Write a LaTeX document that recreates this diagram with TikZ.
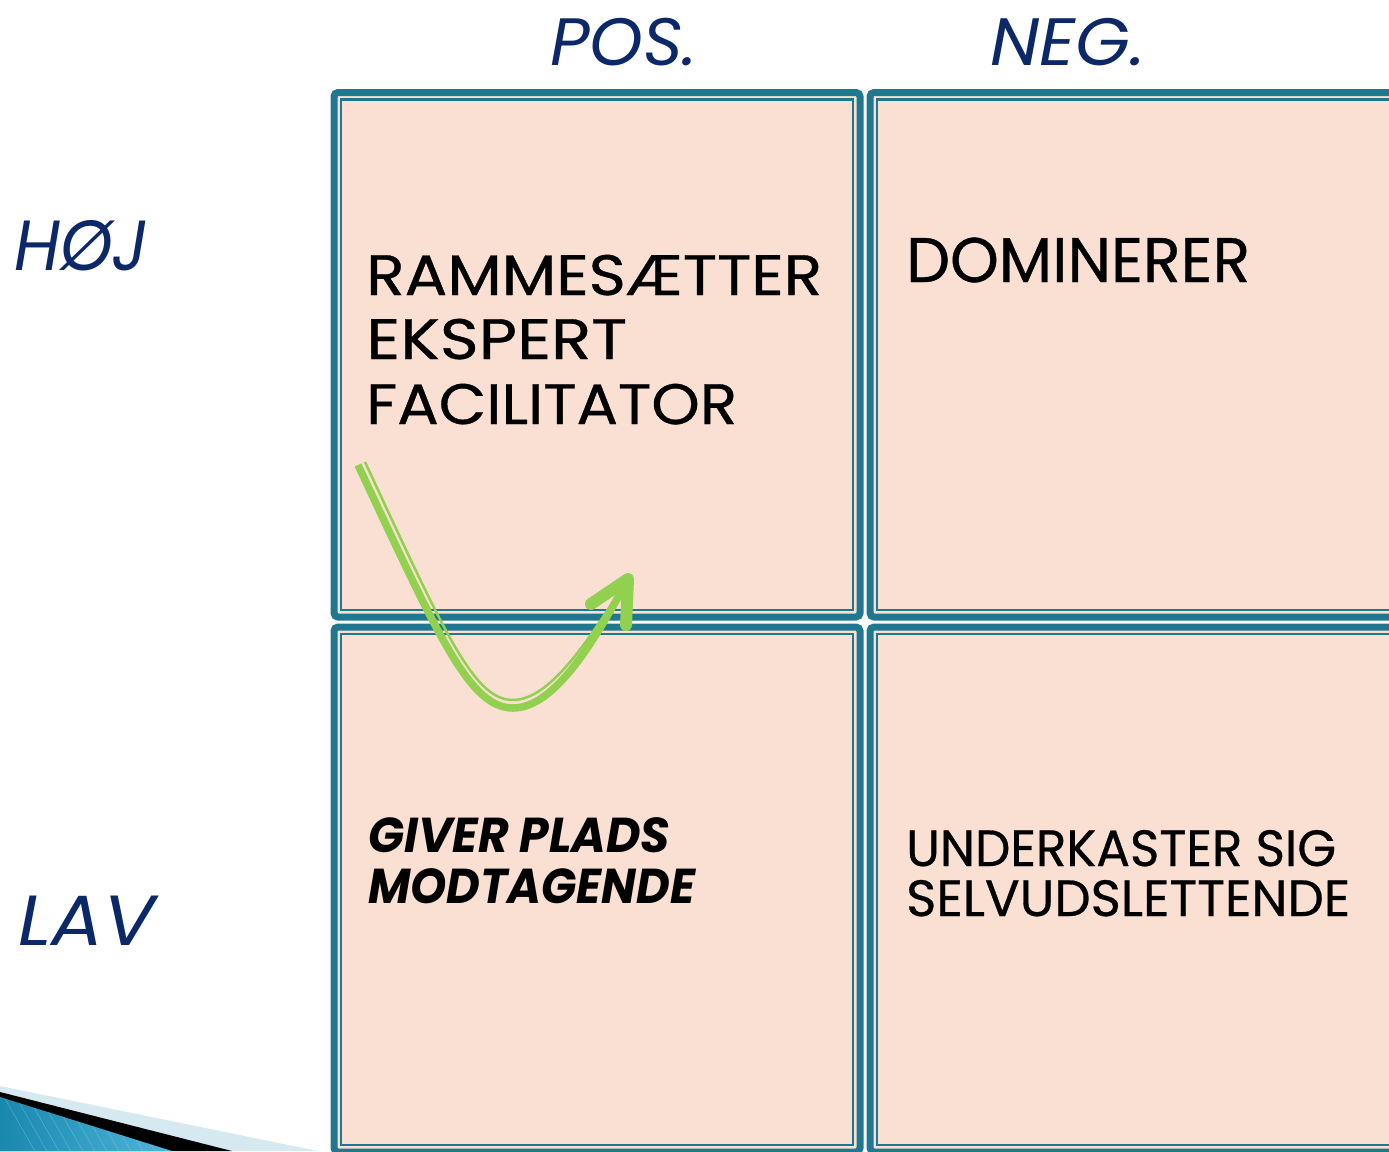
\documentclass[tikz,border=0pt]{standalone}
\usepackage{fontspec}
\setmainfont{Poppins}
\newfontfamily\heavier[FakeBold=0.6]{Poppins}
\definecolor{tealb}{RGB}{31,120,143}
\definecolor{peach}{RGB}{250,223,211}
\definecolor{navy}{RGB}{12,40,104}
\definecolor{grn}{RGB}{146,208,80}
\definecolor{lightb}{RGB}{214,233,241}
\definecolor{blueA}{RGB}{26,135,173}
\definecolor{blueB}{RGB}{80,184,220}
\newcommand\fitw[2]{\sbox0{#2}\pgfmathsetmacro\fitsx{#1/\wd0}\scalebox{\fitsx}[1]{\usebox0}}
\tikzset{
  outerbox/.style={draw=tealb, line width=7pt, fill=peach, rounded corners=4pt},
  innerbox/.style={draw=tealb, line width=2.5pt},
  lbl/.style={inner sep=0pt, anchor=base west},
  boxtxt/.style={lbl, text=black},
  axtxt/.style={lbl, text=navy},
  thickarr/.style={draw=grn, line width=7.5pt},
  thinarr/.style={draw=grn, line width=2.5pt},
  arrhead/.style={draw=grn, line width=12pt, line cap=round, line join=round}
}
\begin{document}
\begin{tikzpicture}[x=1pt, y=-1pt]
\useasboundingbox (0,0) rectangle (1389,1151);
\clip (0,0) rectangle (1389,1151);
% bottom-left decoration
\fill[lightb] (0,1086) -- (318,1151) -- (0,1151) -- cycle;
\fill[black] (0,1092) -- (232,1151) -- (0,1151) -- cycle;
\begin{scope}
  \clip (0,1097) -- (172,1151) -- (0,1151) -- cycle;
  \shade[left color=blueA, right color=blueB] (0,1090) rectangle (180,1151);
  \foreach \i in {0,12,...,200} {
    \draw[blueB!60!white, opacity=0.3, line width=0.8pt] (\i,1090) -- (\i+40,1160);
  }
\end{scope}
% boxes
\draw[outerbox] (334,92.5) rectangle (860,617);
\draw[innerbox] (341,99.5) rectangle (853,610);
\draw[outerbox] (870,92.5) rectangle (1420,617);
\draw[innerbox] (877,99.5) rectangle (1413,610);
\draw[outerbox] (334,627) rectangle (860,1152);
\draw[innerbox] (341,634) rectangle (853,1145);
\draw[outerbox] (870,627) rectangle (1420,1152);
\draw[innerbox] (877,634) rectangle (1413,1145);
% axis labels
\node[axtxt] (pos) at (550,65) {\fontsize{67}{70}\selectfont\itshape\fitw{147}{POS.}};
\node[axtxt] (neg) at (990,65) {\fontsize{67}{70}\selectfont\itshape\fitw{155}{NEG.}};
\node[axtxt] (hoj) at (14,270) {\fontsize{71}{74}\selectfont\itshape\fitw{134}{HØJ}};
\node[axtxt] (lav) at (18,945) {\fontsize{71}{74}\selectfont\itshape\fitw{137}{LAV}};
% box texts
\node[boxtxt] (t1a) at (366,295) {\heavier\fontsize{57}{64}\selectfont\fitw{456}{RAMMESÆTTER}};
\node[boxtxt] (t1b) at (366,359) {\heavier\fontsize{57}{64}\selectfont\fitw{261}{EKSPERT}};
\node[boxtxt] (t1c) at (366,424) {\heavier\fontsize{57}{64}\selectfont\fitw{371}{FACILITATOR}};
\node[boxtxt] (t2a) at (906,282) {\heavier\fontsize{63}{70}\selectfont\fitw{344}{DOMINERER}};
\node[boxtxt] (t3a) at (368,852) {\fontsize{49}{52}\selectfont\bfseries\itshape\fitw{302}{GIVER PLADS}};
\node[boxtxt] (t3b) at (368,903) {\fontsize{49}{52}\selectfont\bfseries\itshape\fitw{327}{MODTAGENDE}};
\node[boxtxt] (t4a) at (906,866) {\heavier\fontsize{51}{54}\selectfont\fitw{430}{UNDERKASTER SIG}};
\node[boxtxt] (t4b) at (906,916) {\heavier\fontsize{51}{54}\selectfont\fitw{444}{SELVUDSLETTENDE}};
% green arrow
\coordinate (a0) at (358,465);
\coordinate (abot) at (513,708);
\coordinate (atip) at (628,579);
\coordinate (b0) at (365,462);
\coordinate (bbot) at (513,700);
\coordinate (bend) at (618,594);
\coordinate (hl) at (591,604);
\coordinate (hd) at (626,625);
\draw[thickarr] (a0) .. controls (440,640) and (470,708) .. (abot) .. controls (555,708) and (595,640) .. (atip);
\draw[thinarr] (b0) .. controls (446,636) and (474,700) .. (bbot) .. controls (550,700) and (588,640) .. (bend);
\draw[arrhead] (hl) -- (atip) -- (hd);
\end{tikzpicture}
\end{document}
